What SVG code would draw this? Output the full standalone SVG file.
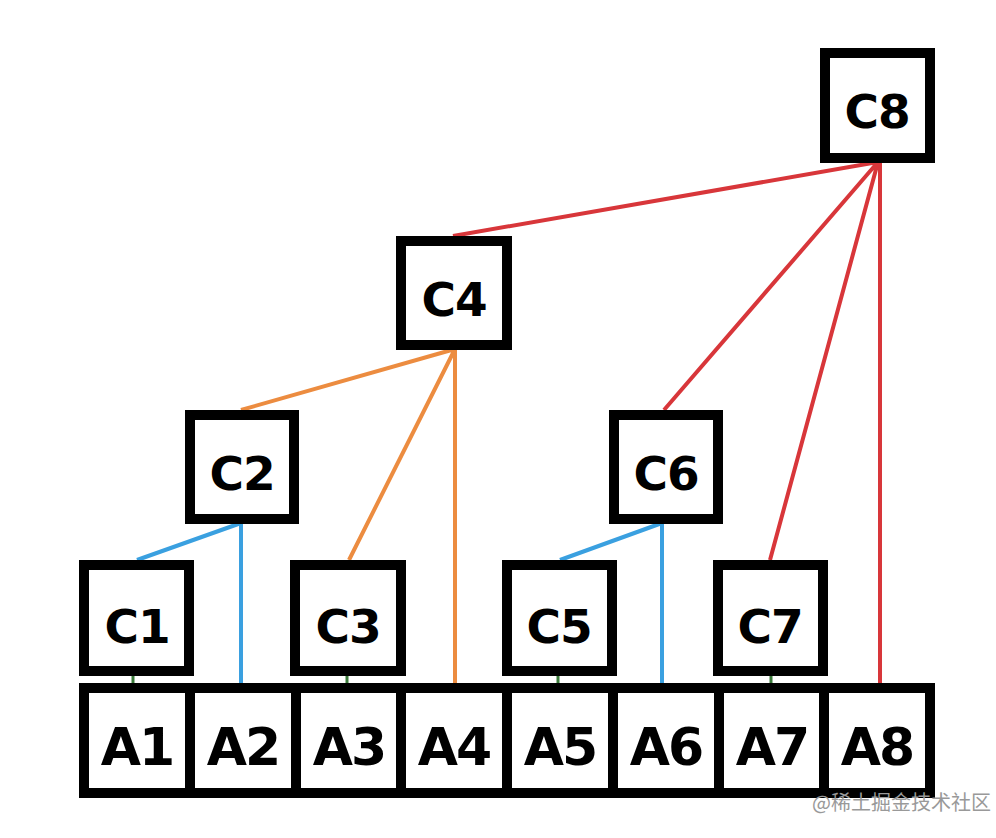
<svg xmlns="http://www.w3.org/2000/svg" width="996" height="838" viewBox="0 0 996 838">
<style>
.box{fill:#fff;stroke:#000;stroke-width:10}
.c{font-family:"DejaVu Sans",sans-serif;font-weight:bold;font-size:47px;text-anchor:middle;fill:#000;letter-spacing:-1px}
.a{font-family:"DejaVu Sans",sans-serif;font-weight:bold;font-size:52px;text-anchor:middle;fill:#000;letter-spacing:-2px}
.blue{stroke:#3aa0e0;stroke-width:4;fill:none}
.orange{stroke:#ec8c40;stroke-width:4;fill:none}
.red{stroke:#d8363a;stroke-width:4;fill:none}
.green{stroke:#3a7a3a;stroke-width:3;fill:none}
.wm{font-family:"Noto Sans CJK SC","Noto Sans",sans-serif;font-size:20px;fill:#999}
</style>
<rect width="996" height="838" fill="#fff"/>
<g id="connectors">
<path class="blue" d="M137 560L241 523M241 523V683M560 560L662 523M662 523V683"/>
<path class="orange" d="M241 410L455 349M349 560L455 349M455 349V683"/>
<path class="red" d="M453 236L878 162M664 410L878 162M770 560L878 162M880 162V683"/>
<path class="green" d="M133 676V683M347 676V683M558 676V683M771 676V683"/>
</g>
<g id="A"><rect class="box" x="84" y="688" width="846" height="105"/>
<path class="box" d="M190 688V793M296 688V793M401 688V793M507 688V793M613 688V793M719 688V793M824 688V793"/>
<text class="a" x="137" y="765">A1</text><text class="a" x="243" y="765">A2</text><text class="a" x="349" y="765">A3</text><text class="a" x="454" y="765">A4</text><text class="a" x="560" y="765">A5</text><text class="a" x="666" y="765">A6</text><text class="a" x="772" y="765">A7</text><text class="a" x="877" y="765">A8</text></g>
<g id="C1"><rect class="box" x="84" y="565" width="105" height="106"/><text class="c" x="137" y="643">C1</text></g>
<g id="C3"><rect class="box" x="295" y="565" width="106" height="106"/><text class="c" x="348" y="643">C3</text></g>
<g id="C5"><rect class="box" x="507" y="565" width="105" height="106"/><text class="c" x="559" y="643">C5</text></g>
<g id="C7"><rect class="box" x="718" y="565" width="105" height="106"/><text class="c" x="770" y="643">C7</text></g>
<g id="C2"><rect class="box" x="190" y="415" width="104" height="104"/><text class="c" x="242" y="490">C2</text></g>
<g id="C6"><rect class="box" x="614" y="415" width="104" height="104"/><text class="c" x="666" y="490">C6</text></g>
<g id="C4"><rect class="box" x="401" y="241" width="106" height="104"/><text class="c" x="454" y="316">C4</text></g>
<g id="C8"><rect class="box" x="825" y="53" width="105" height="105"/><text class="c" x="877" y="128">C8</text></g>
<text class="wm" x="812" y="810">@稀土掘金技术社区</text>
</svg>
